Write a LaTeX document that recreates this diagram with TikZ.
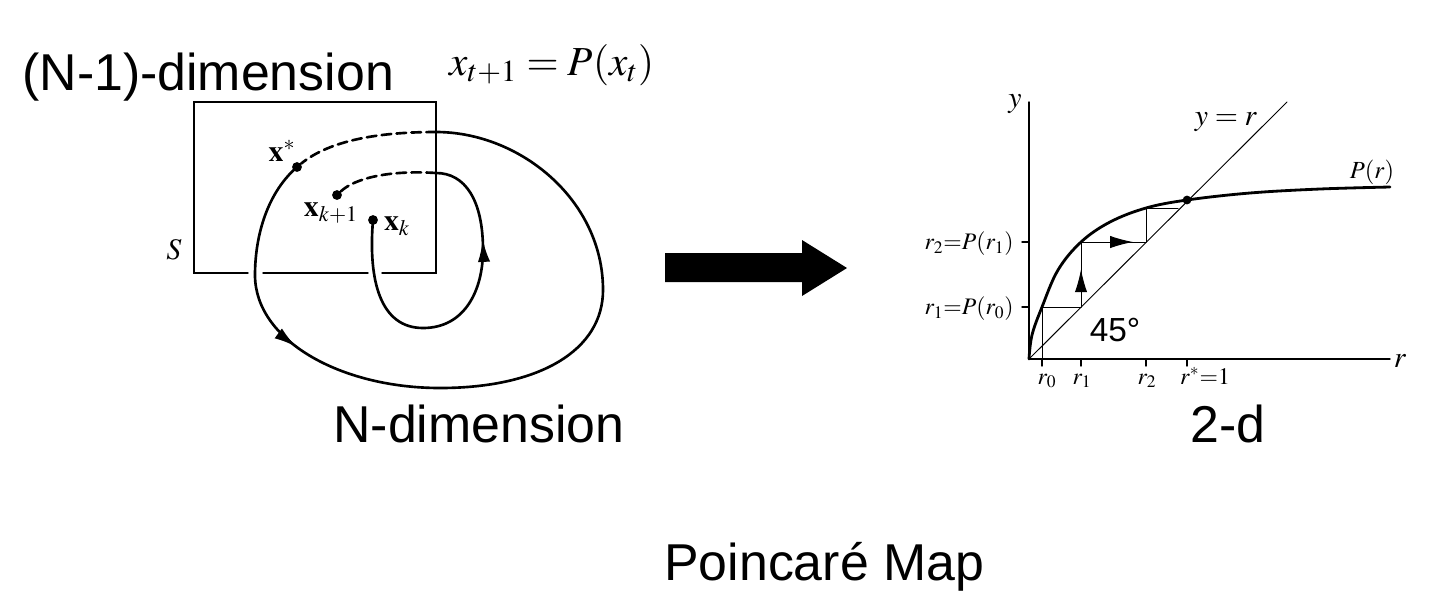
\documentclass[tikz,border=0pt]{standalone}
\usepackage{mathptmx}
\usepackage[no-math]{fontspec}
\newfontfamily\helv{Liberation Sans}
\usetikzlibrary{arrows,arrows.meta,decorations.markings,positioning}
\tikzset{
    %Define standard arrow tip
    >=latex',
    %Define style for the big titles
    titel/.style={
           font=\helv\fontsize{29.5}{34}\selectfont,
           inner sep=0pt,
           anchor=base west},
    %Define style for the map formula
    formel/.style={
           font=\fontsize{23.5}{26}\selectfont,
           inner sep=0pt,
           anchor=base west},
    %Define style for labels of the points
    lbl/.style={
           font=\fontsize{17}{19}\selectfont,
           inner sep=0pt},
    %Define style for labels of the axes
    akselbl/.style={
           font=\fontsize{13.5}{15}\selectfont,
           inner sep=0pt},
    %Define style for the points
    dot/.style={
           circle,
           fill=black,
           inner sep=0pt,
           minimum size=5.6pt},
    % Define line styles
    bane/.style={line width=1.5pt},
    snit/.style={line width=0.8pt},
    akse/.style={line width=0.8pt},
    tynd/.style={line width=0.55pt},
    kurve/.style={line width=1.6pt},
    skridt/.style={line width=1.5pt, dash pattern=on 5.5pt off 3pt},
    % Define arrow in the middle of a path
    midpil/.style={
           postaction={decorate},
           decoration={markings,
             mark=at position #1 with {\arrow{Latex[length=13pt,width=7pt]}}}}
}
\begin{document}
\begin{tikzpicture}[x=0.02cm,y=-0.02cm,line cap=round]
\useasboundingbox (0,0) rectangle (1456,606);

 %titles
\node[titel] (ndim1) at (22,90) {(N-1)-dimension};
\node[formel] (map) at (449,75) {$x_{t+1} = P(x_t)$};
\node[titel] (ndim) at (333,442) {N-dimension};
\node[titel] (twod) at (1190,442) {2-d};
\node[titel] (poinc) at (664,580) {Poincaré Map};

 %section S
\draw[snit] (248,273) -- (194,273) -- (194,102) -- (436,102) -- (436,273) -- (382,273);
\draw[snit] (263,273) -- (368,273);
\node[lbl] (S) at (174,250) {$S$};

 %points on the section
\node[dot] (xs) at (297,167) {};
\node[dot] (xk1) at (337,195) {};
\node[dot] (xk) at (373,220) {};
\coordinate (top1) at (436,132);
\coordinate (top2) at (436,173);
\node[lbl] at (282,151) {$\mathbf{x}^{*}$};
\node[lbl] at (331,213) {$\mathbf{x}_{k+1}$};
\node[lbl] at (397,226) {$\mathbf{x}_{k}$};

 %orbits
\draw[bane, midpil=0.25] (xs.center) .. controls (265,195) and (255,240) .. (255,275)
    .. controls (255,340) and (340,388) .. (440,388)
    .. controls (540,388) and (603,350) .. (603,290)
    .. controls (603,200) and (520,132) .. (top1);
\draw[skridt] (top1) .. controls (380,132) and (330,140) .. (xs);
\draw[bane, midpil=0.74] (xk.center) .. controls (368,280) and (380,328) .. (423,328)
    .. controls (465,328) and (483,290) .. (483,250)
    .. controls (483,200) and (465,173) .. (top2);
\draw[skridt] (top2) .. controls (390,170) and (355,178) .. (xk1);

 %big arrow
\fill (665,253) -- (802,253) -- (802,240) -- (847,268) -- (802,296) -- (802,282) -- (665,282) -- cycle;

 %axes
\coordinate (O) at (1029,359);
\coordinate (ytop) at (1029,102);
\coordinate (rend) at (1390,359);
\draw[akse] (O) -- (ytop);
\draw[akse] (O) -- (rend);
\foreach \x in {1042,1081,1146,1187}
    \draw[akse] (\x,359) -- (\x,366);
\foreach \y in {307,242}
    \draw[akse] (1022,\y) -- (1029,\y);
\node[akselbl, font=\fontsize{17}{19}\selectfont] at (1015,104) {$y$};
\node[akselbl, font=\fontsize{17}{19}\selectfont] at (1400,361) {$r$};

 %diagonal and map
\draw[tynd] (O) -- (1287,102);
\node[akselbl, font=\fontsize{17}{19}\selectfont] at (1226,122) {$y = r$};
\draw[kurve] plot[smooth, tension=0.6] coordinates {(1029,359) (1032,335) (1042,307)
    (1058,270) (1081,242) (1110,222) (1146,208) (1187,200) (1250,193) (1320,189) (1390,187)};
\node[akselbl, font=\fontsize{14}{16}\selectfont] at (1372,172) {$P(r)$};
\node[dot, minimum size=5pt] (fix) at (1187,200) {};

 %cobweb
\draw[tynd] (1042,359) -- (1042,307) -- (1081,307);
\draw[tynd, midpil=0.58] (1081,307) -- (1081,242);
\draw[tynd, midpil=0.8] (1081,242) -- (1146,242);
\draw[tynd] (1146,242) -- (1146,208) -- (1178,208);
\node[akselbl, font=\helv\fontsize{19}{21}\selectfont] at (1115,330) {45°};

 %tick labels
\node[akselbl, anchor=east] at (1014,244) {$r_2{=}P(r_1)$};
\node[akselbl, anchor=east] at (1014,309) {$r_1{=}P(r_0)$};
\node[akselbl, anchor=base] at (1047,384) {$r_0$};
\node[akselbl, anchor=base] at (1082,384) {$r_1$};
\node[akselbl, anchor=base] at (1147,384) {$r_2$};
\node[akselbl, anchor=base] at (1205,384) {$r^{*}{=}1$};
\end{tikzpicture}
\end{document}
